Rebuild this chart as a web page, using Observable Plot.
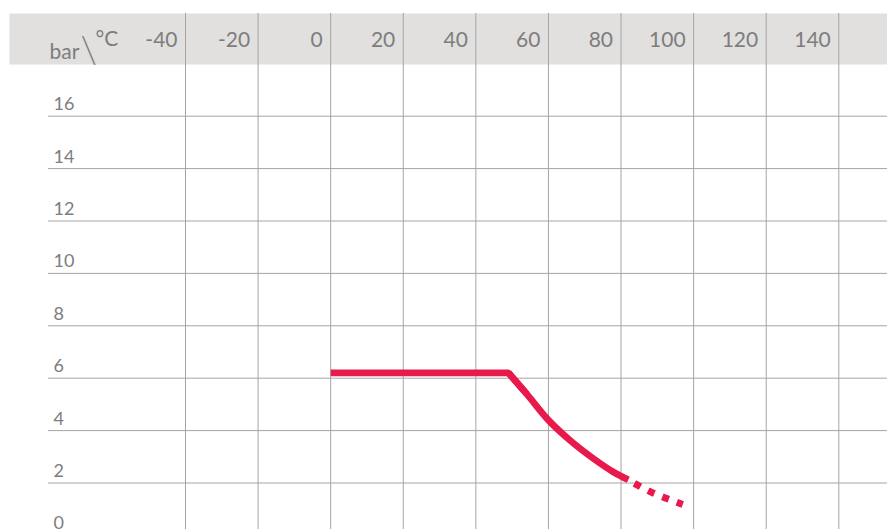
<!DOCTYPE html>
<html>
<head>
<meta charset="utf-8">
<script src="https://cdn.jsdelivr.net/npm/d3@7"></script>
<script src="https://cdn.jsdelivr.net/npm/@observablehq/plot@0.6"></script>
<style>
  html, body { margin: 0; padding: 0; background: #ffffff; }
  #chart svg { display: block; }
</style>
</head>
<body>
<div id="chart"></div>
<script>
// Tick labels
const temperatureTicks = [-40, -20, 0, 20, 40, 60, 80, 100, 120, 140];
const pressureTicks = [0, 2, 4, 6, 8, 10, 12, 14, 16];
const yUnit = "bar";
const unitSeparator = "\\";
const xUnit = "°C";

// Series: working pressure (bar) vs. temperature (°C)
const flatTemps = [0, 49];
const flatPressures = [6.2, 6.2];
const curveTemps = [49, 54, 60, 66, 72.5, 78, 82];
const curvePressures = [6.2, 5.4, 4.4, 3.62, 2.92, 2.41, 2.12];
const dottedTemps = [82, 88, 92, 97];
const dottedPressures = [2.12, 1.67, 1.44, 1.18];

const zip = (ts, ps) => ts.map((t, i) => ({t, p: ps[i]}));
// flat part joined (mitred) into the first segment of the falling curve
const flat = zip(flatTemps, flatPressures).concat(zip(curveTemps.slice(1, 2), curvePressures.slice(1, 2)));
const curve = zip(curveTemps, curvePressures);
const dotted = zip(dottedTemps, dottedPressures);

const gridColor = "#a4a4a4";
const textColor = "#7d7d7d";
const red = "#e8194b";
const font = "Lato, 'Open Sans', sans-serif";

const chart = Plot.plot({
  width: 887,
  height: 529,
  marginTop: 13,
  marginLeft: 9,
  marginRight: 0,
  marginBottom: 0,
  x: {domain: [-40, 140], range: [185, 838.3], axis: null},
  y: {domain: [0, 16], range: [534.9, 115.7], axis: null},
  style: {fontFamily: font, color: textColor, background: "#ffffff", overflow: "visible"},
  marks: [
    Plot.frame({fill: "#e1e0df", stroke: null, insetBottom: 465}),
    Plot.ruleX(temperatureTicks, {x: d => d, stroke: gridColor, strokeWidth: 1}),
    Plot.ruleY(pressureTicks, {y: d => d, stroke: gridColor, strokeWidth: 1, insetLeft: 39}),
    Plot.text(temperatureTicks, {x: d => d, text: d => String(d), frameAnchor: "top", dx: -8, dy: 33,
      textAnchor: "end", lineAnchor: "bottom", fontSize: 21, fill: textColor}),
    Plot.text(pressureTicks, {y: d => d, text: d => String(d), frameAnchor: "left", dx: 44, dy: -6,
      textAnchor: "start", lineAnchor: "bottom", fontSize: 18, fill: textColor}),
    Plot.text([yUnit], {text: d => d, frameAnchor: "top-left", dx: 40, dy: 45,
      textAnchor: "start", lineAnchor: "bottom", fontSize: 21, fill: textColor}),
    Plot.text([unitSeparator], {text: d => d, frameAnchor: "top-left", dx: 71, dy: 49,
      textAnchor: "start", lineAnchor: "bottom", fontSize: 38, fontWeight: 300, fill: textColor}),
    Plot.text([xUnit], {text: d => d, frameAnchor: "top-left", dx: 86, dy: 32,
      textAnchor: "start", lineAnchor: "bottom", fontSize: 21, fill: textColor}),
    Plot.line(flat, {x: "t", y: "p", stroke: red, strokeWidth: 6.7, strokeLinecap: "butt", strokeLinejoin: "miter"}),
    Plot.line(curve, {x: "t", y: "p", curve: "monotone-x", stroke: red, strokeWidth: 6.7, strokeLinecap: "butt"}),
    Plot.line(dotted, {x: "t", y: "p", curve: "monotone-x", stroke: red, strokeWidth: 7, strokeLinecap: "butt",
      strokeDasharray: "7 8.5", strokeDashoffset: 8.5})
  ]
});
document.getElementById("chart").appendChild(chart);
</script>
</body>
</html>
